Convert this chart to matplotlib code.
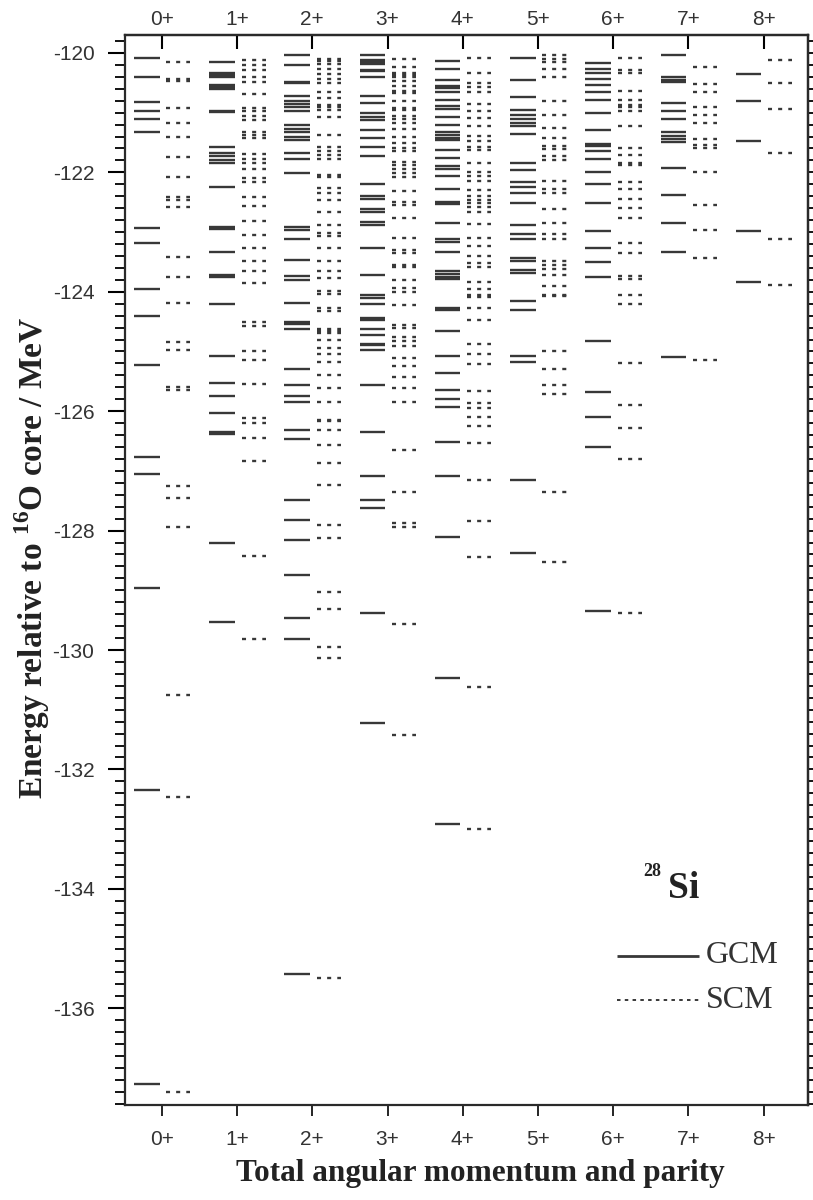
"""28Si level scheme: GCM (solid) vs SCM (dashed) energies per J^pi."""

import numpy as np
import matplotlib.pyplot as plt
from matplotlib.ticker import FixedLocator, MultipleLocator, NullFormatter

spins = ["0+", "1+", "2+", "3+", "4+", "5+", "6+", "7+", "8+"]

gcm_0 = [-120.09, -120.41, -120.82, -120.98, -121.10, -121.33, -122.94, -123.19, -123.96,
         -124.40, -125.23, -126.77, -127.05, -128.96, -132.35, -137.27]
scm_0 = [-120.15, -120.44, -120.47, -120.92, -121.18, -121.40, -121.75, -122.07, -122.42,
         -122.46, -122.58, -123.41, -123.76, -124.18, -124.84, -124.97, -125.60, -125.64,
         -127.25, -127.46, -127.94, -130.76, -132.47, -137.41]

gcm_1 = [-120.15, -120.33, -120.37, -120.41, -120.54, -120.57, -120.61, -120.97, -120.99,
         -121.57, -121.68, -121.72, -121.79, -121.85, -122.25, -122.92, -122.95, -123.34,
         -123.72, -123.75, -124.21, -125.07, -125.52, -125.74, -126.03, -126.35, -126.39,
         -128.20, -129.53]
scm_1 = [-120.12, -120.20, -120.28, -120.41, -120.48, -120.69, -120.92, -120.98, -121.05,
         -121.12, -121.32, -121.37, -121.43, -121.69, -121.78, -121.85, -121.95, -122.10,
         -122.16, -122.42, -122.57, -122.82, -123.05, -123.27, -123.49, -123.66, -123.86,
         -124.50, -124.58, -125.00, -125.14, -125.55, -126.11, -126.19, -126.45, -126.83,
         -128.42, -129.82]

gcm_2 = [-120.03, -120.20, -120.48, -120.51, -120.72, -120.81, -120.85, -120.90, -120.97,
         -121.21, -121.28, -121.33, -121.40, -121.46, -121.67, -121.78, -122.01, -122.91,
         -122.96, -123.12, -123.46, -123.74, -123.80, -124.18, -124.50, -124.54, -124.62,
         -125.29, -125.57, -125.74, -125.84, -126.31, -126.47, -127.49, -127.82, -128.16,
         -128.74, -129.47, -129.82, -135.43]
scm_2 = [-120.11, -120.14, -120.18, -120.27, -120.36, -120.44, -120.50, -120.65, -120.76,
         -120.87, -120.91, -120.95, -121.08, -121.37, -121.57, -121.65, -121.71, -121.78,
         -122.04, -122.08, -122.27, -122.34, -122.46, -122.67, -122.88, -123.02, -123.06,
         -123.27, -123.49, -123.66, -123.77, -123.99, -124.03, -124.27, -124.33, -124.62,
         -124.66, -124.69, -124.81, -124.94, -125.04, -125.17, -125.39, -125.61, -125.84,
         -126.14, -126.17, -126.32, -126.57, -126.86, -127.24, -127.91, -128.13, -129.03,
         -129.31, -129.95, -130.14, -135.50]

gcm_3 = [-120.03, -120.12, -120.15, -120.18, -120.29, -120.31, -120.41, -120.72, -120.84,
         -121.01, -121.07, -121.13, -121.29, -121.43, -121.57, -121.72, -122.19, -122.39,
         -122.45, -122.62, -122.67, -122.84, -122.88, -123.27, -123.72, -124.05, -124.11,
         -124.21, -124.44, -124.47, -124.62, -124.72, -124.87, -124.90, -124.97, -125.56,
         -126.35, -127.08, -127.49, -127.63, -129.38, -131.23]
scm_3 = [-120.11, -120.24, -120.33, -120.37, -120.41, -120.47, -120.56, -120.64, -120.67,
         -120.80, -120.93, -120.95, -121.05, -121.11, -121.18, -121.28, -121.40, -121.51,
         -121.60, -121.64, -121.82, -121.88, -121.95, -122.01, -122.07, -122.32, -122.49,
         -122.54, -122.77, -123.10, -123.30, -123.35, -123.55, -123.59, -123.80, -123.93,
         -124.01, -124.23, -124.55, -124.61, -124.75, -124.82, -124.91, -125.11, -125.24,
         -125.43, -125.61, -125.84, -126.65, -127.35, -127.87, -127.94, -129.57, -131.43]

gcm_4 = [-120.13, -120.27, -120.45, -120.55, -120.59, -120.65, -120.79, -120.89, -120.94,
         -121.08, -121.21, -121.33, -121.37, -121.42, -121.46, -121.62, -121.76, -121.90,
         -121.94, -122.06, -122.28, -122.49, -122.53, -122.85, -123.12, -123.17, -123.33,
         -123.66, -123.70, -123.75, -123.79, -124.27, -124.30, -124.66, -125.07, -125.36,
         -125.64, -125.80, -125.93, -126.51, -127.08, -128.11, -130.47, -132.92]
scm_4 = [-120.09, -120.33, -120.51, -120.57, -120.65, -120.85, -120.98, -121.09, -121.23,
         -121.39, -121.48, -121.58, -121.62, -121.84, -122.00, -122.06, -122.15, -122.29,
         -122.40, -122.47, -122.51, -122.58, -122.67, -122.86, -123.10, -123.23, -123.40,
         -123.52, -123.58, -123.83, -123.96, -124.05, -124.08, -124.27, -124.47, -124.88,
         -125.04, -125.21, -125.66, -125.87, -125.94, -126.10, -126.25, -126.54, -127.15,
         -127.84, -128.45, -130.62, -132.99]

gcm_5 = [-120.09, -120.45, -120.73, -120.95, -121.04, -121.11, -121.17, -121.22, -121.36,
         -121.84, -121.96, -122.17, -122.24, -122.35, -122.51, -122.88, -123.03, -123.12,
         -123.44, -123.49, -123.63, -123.69, -124.15, -124.31, -125.08, -125.17, -127.15,
         -128.37]
scm_5 = [-120.03, -120.11, -120.16, -120.27, -120.40, -120.81, -121.04, -121.26, -121.43,
         -121.56, -121.61, -121.72, -121.80, -122.15, -122.28, -122.35, -122.62, -122.85,
         -123.03, -123.12, -123.49, -123.55, -123.62, -123.72, -123.90, -124.05, -124.07,
         -125.00, -125.29, -125.56, -125.71, -127.36, -128.52]

gcm_6 = [-120.17, -120.27, -120.33, -120.44, -120.54, -120.66, -120.79, -121.01, -121.29,
         -121.52, -121.56, -121.65, -121.77, -122.00, -122.19, -122.51, -122.99, -123.27,
         -123.50, -123.75, -124.82, -125.68, -126.09, -126.60, -129.34]
scm_6 = [-120.09, -120.28, -120.33, -120.63, -120.79, -120.87, -120.91, -120.98, -121.23,
         -121.60, -121.71, -121.84, -121.88, -122.17, -122.28, -122.45, -122.60, -122.77,
         -123.19, -123.35, -123.74, -123.79, -124.05, -124.20, -125.19, -125.90, -126.28,
         -126.80, -129.38]

gcm_7 = [-120.03, -120.40, -120.45, -120.48, -120.84, -120.98, -121.11, -121.32, -121.39,
         -121.44, -121.50, -121.93, -122.38, -122.85, -123.33, -125.09]
scm_7 = [-120.24, -120.52, -120.65, -120.91, -121.04, -121.17, -121.44, -121.54, -121.60,
         -122.00, -122.54, -122.96, -123.44, -125.15]

gcm_8 = [-120.36, -120.80, -121.48, -122.99, -123.84]
scm_8 = [-120.12, -120.50, -120.94, -121.68, -123.12, -123.88]

gcm = [gcm_0, gcm_1, gcm_2, gcm_3, gcm_4, gcm_5, gcm_6, gcm_7, gcm_8]
scm = [scm_0, scm_1, scm_2, scm_3, scm_4, scm_5, scm_6, scm_7, scm_8]

INK = "#383838"
SERIF = ["Liberation Serif", "DejaVu Serif"]
SANS = ["Liberation Sans", "DejaVu Sans"]

plt.rcParams["mathtext.fontset"] = "custom"
plt.rcParams["mathtext.rm"] = "Liberation Serif:bold"
plt.rcParams["mathtext.bf"] = "Liberation Serif:bold"

fig = plt.figure(figsize=(8.13, 12), dpi=100)
ax = fig.add_axes([125 / 813, 1 - 1105 / 1200, 683 / 813, 1070 / 1200])
ax.set_xlim(-0.49, 8.59)
ax.set_ylim(-137.62, -119.70)

lw = 1.7
scm_dash = (0, (2.9 / lw, 4.4 / lw))
for j in range(len(spins)):
    ax.hlines(gcm[j], j - 0.37, j - 0.03, colors=INK, lw=lw)
    ax.hlines(scm[j], j + 0.06, j + 0.38, colors=INK, lw=lw, linestyles=[scm_dash])

for sp in ax.spines.values():
    sp.set_linewidth(1.6)
    sp.set_color("#2a2a2a")

# bottom axis
ax.set_xticks(range(len(spins)))
ax.set_xticklabels(spins, family=SANS, fontsize=15, color="#333333")
ax.tick_params(axis="x", direction="out", length=8, width=1.2, pad=10)

# top axis, ticks pointing inward
top = ax.secondary_xaxis("top")
top.set_xticks(range(len(spins)))
top.set_xticklabels(spins, family=SANS, fontsize=15, color="#333333")
top.tick_params(direction="in", length=10, width=1.5, pad=4)
top.spines["top"].set_linewidth(1.6)

# left axis: labelled majors every 2 MeV, minors every 0.2 MeV
ax.yaxis.set_major_locator(FixedLocator(np.arange(-136, -119, 2)))
ax.set_yticklabels([f"-{abs(v):d}" for v in range(-136, -119, 2)],
                   family=SANS, fontsize=15, color="#333333")
ax.yaxis.set_minor_locator(MultipleLocator(0.2))
ax.tick_params(axis="y", which="major", direction="out", length=12, width=1.5, pad=10)
ax.tick_params(axis="y", which="minor", direction="out", length=7, width=1.3)

# right axis: small ruler ticks only
right = ax.secondary_yaxis("right")
right.yaxis.set_major_locator(MultipleLocator(0.2))
right.yaxis.set_major_formatter(NullFormatter())
right.tick_params(direction="out", length=5, width=1.3)
right.spines["right"].set_linewidth(1.6)

fig.text(32 / 813, 1 - 558 / 1200, "Energy relative to $^{16}$O core / MeV",
         rotation=90, ha="center", va="center", family=SERIF,
         fontweight="bold", fontsize=24, color="#222222")
fig.text(480 / 813, 1 - 1173 / 1200, "Total angular momentum and parity",
         ha="center", va="center", family=SERIF, fontweight="bold",
         fontsize=22.5, color="#222222")


def ax_xy(px, py):
    """Pixel position in the figure -> axes fraction."""
    return (px - 125) / 683, (1105 - py) / 1070


# nucleus label
ax.text(*ax_xy(684, 898), "Si", transform=ax.transAxes, ha="center", va="baseline",
        family=SERIF, fontweight="bold", fontsize=27, color="#222222")
ax.text(*ax_xy(652, 876), "28", transform=ax.transAxes, ha="center", va="baseline",
        family=SERIF, fontweight="bold", fontsize=13, color="#222222")

# legend drawn by hand, as in the original
for py, style, width, name in [(956, "-", 2.0, "GCM"), (1000, (0, (1.8, 2.2)), 1.4, "SCM")]:
    x0, y0 = ax_xy(617, py)
    x1, _ = ax_xy(699, py)
    ax.plot([x0, x1], [y0, y0], transform=ax.transAxes, color=INK, lw=width,
            linestyle=style, solid_capstyle="butt", clip_on=False)
    ax.text(*ax_xy(706, py), name, transform=ax.transAxes, ha="left", va="center",
            family=SERIF, fontsize=23, color="#333333")

fig.savefig("out.png", dpi=100)
